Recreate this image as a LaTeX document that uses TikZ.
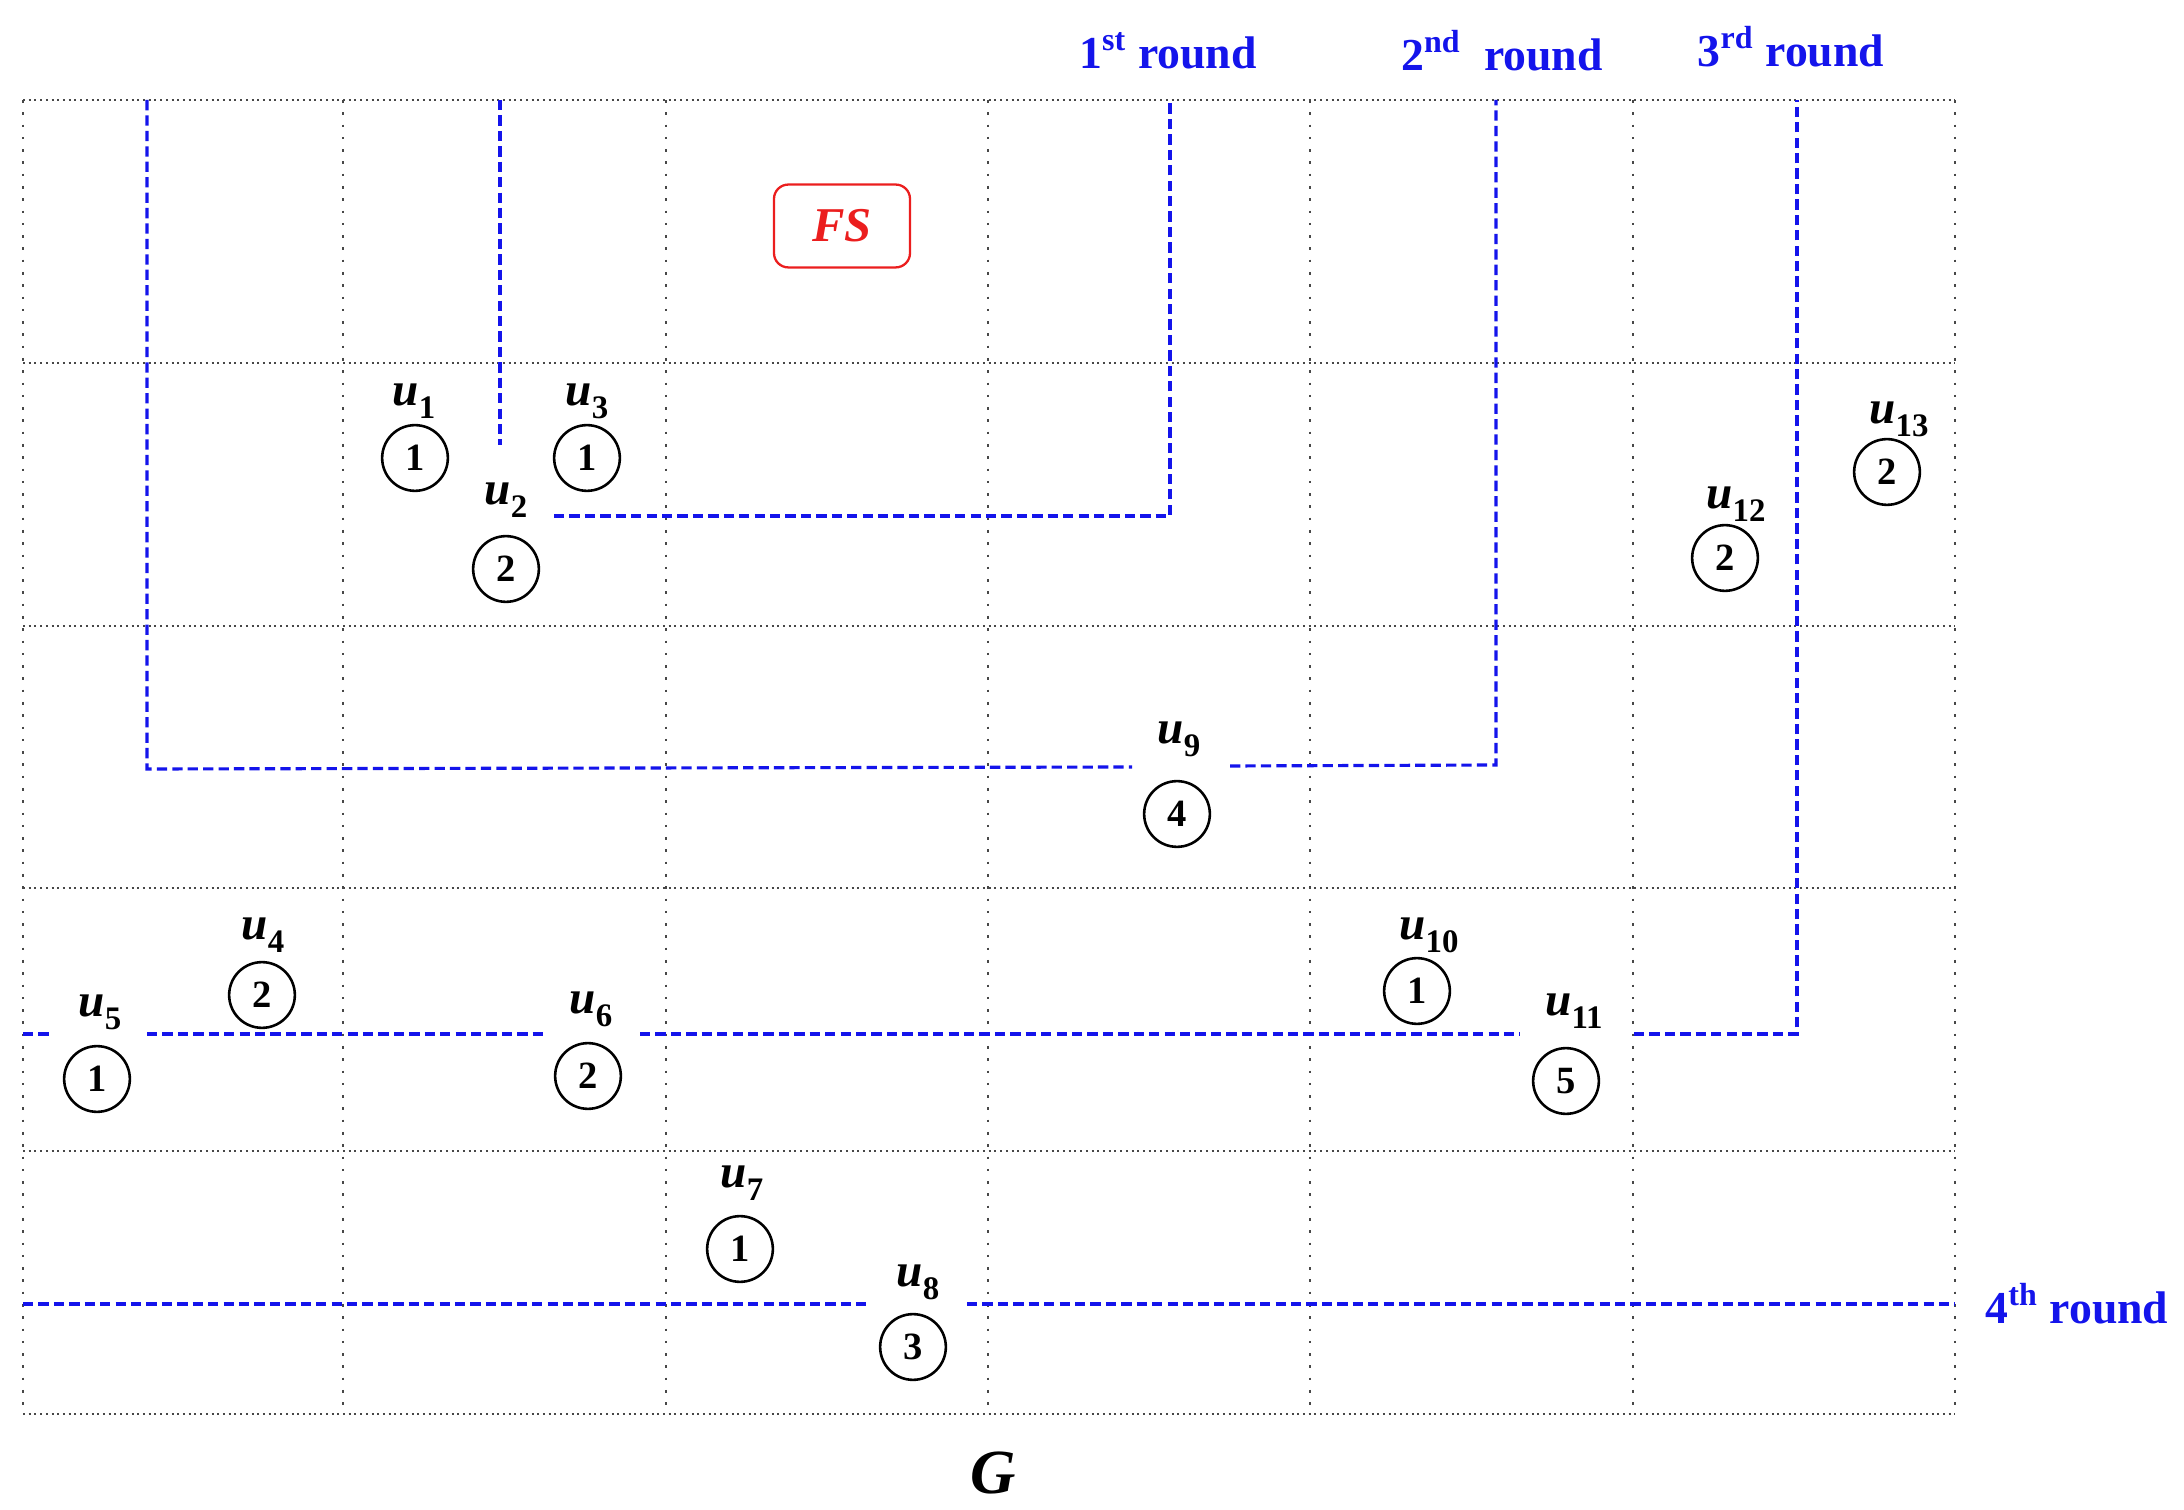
\documentclass[tikz,border=0pt]{standalone}
\usepackage{fontspec}
\setmainfont{Liberation Serif}
\definecolor{roundblue}{RGB}{20,20,235}
\definecolor{fsred}{RGB}{235,30,30}
\newcommand{\ulabtext}[1]{u\raisebox{-0.28em}{\fontsize{11.5}{12}\selectfont\bfseries\upshape #1}}
\begin{document}
\begin{tikzpicture}[x=0.35pt,y=-0.35pt,
  gridh/.style={draw=black!72, line width=0.8pt, dash pattern=on 0.7pt off 1.3pt},
  gridv/.style={draw=black!72, line width=0.9pt, dash pattern=on 0.9pt off 3.4pt},
  cut/.style={draw=roundblue, line width=1.1pt, dash pattern=on 3.6pt off 1.8pt},
  num/.style={circle, draw=black, line width=0.9pt, minimum size=23pt, inner sep=0pt, font=\fontsize{13.5}{14}\selectfont\bfseries},
  ulab/.style={inner sep=0pt, font=\fontsize{16.5}{17}\selectfont\bfseries\itshape},
  rlab/.style={text=roundblue, inner sep=0pt, font=\fontsize{16}{17}\selectfont\bfseries}
]
\useasboundingbox (0,0) rectangle (2184,1510);
% grid
\foreach \y in {100,363,626,888,1151,1414} \draw[gridh] (23,\y) -- (1955,\y);
\foreach \x in {23,343,666,988,1310,1633,1955} \draw[gridv] (\x,100) -- (\x,1414);
% FS box
\node[draw=fsred, line width=0.8pt, rounded corners=5pt, minimum width=47.6pt, minimum height=29pt, text=fsred, font=\fontsize{17}{18}\selectfont\bfseries\itshape] (fs) at (842,226) {FS};
% circles
\node[num] (c1) at (415,458) {1};
\node[num] (c2) at (506,569) {2};
\node[num] (c3) at (587,458) {1};
\node[num] (c4) at (262,995) {2};
\node[num] (c5) at (97,1079) {1};
\node[num] (c6) at (588,1076) {2};
\node[num] (c7) at (740,1249) {1};
\node[num] (c8) at (913,1347) {3};
\node[num] (c9) at (1177,814) {4};
\node[num] (c10) at (1417,991) {1};
\node[num] (c11) at (1566,1081) {5};
\node[num] (c12) at (1725,558) {2};
\node[num] (c13) at (1887,472) {2};
% labels
\node[ulab] (l1) at (414,401) {\ulabtext{1}};
\node[ulab] (l2) at (506,500) {\ulabtext{2}};
\node[ulab] (l3) at (587,401) {\ulabtext{3}};
\node[ulab] (l4) at (263,935) {\ulabtext{4}};
\node[ulab] (l5) at (100,1012) {\ulabtext{5}};
\node[ulab] (l6) at (591,1009) {\ulabtext{6}};
\node[ulab] (l7) at (742,1183) {\ulabtext{7}};
\node[ulab] (l8) at (918,1282) {\ulabtext{8}};
\node[ulab] (l9) at (1179,739) {\ulabtext{9}};
\node[ulab] (l10) at (1429,935) {\ulabtext{10}};
\node[ulab] (l11) at (1574,1011) {\ulabtext{11}};
\node[ulab] (l12) at (1736,504) {\ulabtext{12}};
\node[ulab] (l13) at (1899,419) {\ulabtext{13}};
\node[ulab, font=\fontsize{22}{23}\selectfont\bfseries\itshape] (g) at (993,1473) {G};
% round titles
\node[rlab] (r1) at (1168,51) {1\textsuperscript{st} round};
\node[rlab] (r2) at (1502,51) {2\textsuperscript{nd}\ \ round};
\node[rlab] (r3) at (1791,47) {3\textsuperscript{rd} round};
\node[rlab, anchor=west] (r4) at (1985,1304) {4\textsuperscript{th} round};
% cut coordinates
\coordinate (a1) at (500,100);
\coordinate (a2) at (500,445);
\coordinate (b1) at (554,516);
\coordinate (b2) at (1170,516);
\coordinate (b3) at (1170,100);
\coordinate (d1) at (147,100);
\coordinate (d2) at (147,769);
\coordinate (d3) at (1132,767);
\coordinate (d4) at (1230,766);
\coordinate (d5) at (1496,765);
\coordinate (d6) at (1496,100);
\coordinate (e1) at (23,1034);
\coordinate (e2) at (53,1034);
\coordinate (e3) at (147,1034);
\coordinate (e4) at (546,1034);
\coordinate (e5) at (640,1034);
\coordinate (e6) at (1520,1034);
\coordinate (e7) at (1634,1034);
\coordinate (e8) at (1797,1034);
\coordinate (e9) at (1797,100);
\coordinate (f1) at (23,1304);
\coordinate (f2) at (870,1304);
\coordinate (f3) at (967,1304);
\coordinate (f4) at (1955,1304);
% cuts
\draw[cut] (a1) -- (a2);
\draw[cut] (b1) -- (b2) -- (b3);
\draw[cut] (d1) -- (d2) -- (d3);
\draw[cut] (d4) -- (d5) -- (d6);
\draw[cut] (e1) -- (e2);
\draw[cut] (e3) -- (e4);
\draw[cut] (e5) -- (e6);
\draw[cut] (e7) -- (e8) -- (e9);
\draw[cut] (f1) -- (f2);
\draw[cut] (f3) -- (f4);
\end{tikzpicture}
\end{document}
